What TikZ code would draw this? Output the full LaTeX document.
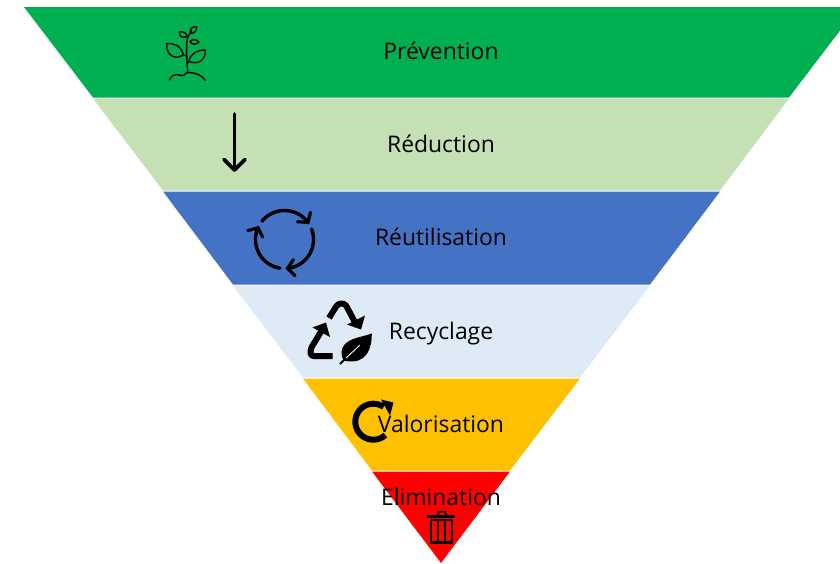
\documentclass[tikz,border=0pt]{standalone}
\usepackage{fontspec}
\setmainfont{Open Sans}
\usetikzlibrary{arrows.meta}
\definecolor{cPrev}{HTML}{00B050}
\definecolor{cRedu}{HTML}{C5E0B4}
\definecolor{cReut}{HTML}{4472C4}
\definecolor{cRecy}{HTML}{DEEAF6}
\definecolor{cValo}{HTML}{FFC000}
\definecolor{cElim}{HTML}{FF0000}
\tikzset{
  label text/.style={text=black,font=\fontsize{22.9}{26}\selectfont,inner sep=0pt,anchor=base},
  band/.style={draw=none},
  thin icon/.style={draw=black,line width=1.4pt,line join=round,line cap=round},
  bold icon/.style={draw=black,line width=3.6pt,line join=round,line cap=round},
  ring line/.style={draw=black,line width=3.4pt,line cap=round},
  ring head/.style={draw=black,line width=3.2pt,line cap=round,line join=miter},
  heavy icon/.style={draw=black,line width=6pt,line join=round,rounded corners=3pt},
  solid icon/.style={fill=black,draw=none},
  trash line/.style={draw=black,line width=2.8pt}
}
\begin{document}
\begin{tikzpicture}[x=1pt,y=-1pt]
\useasboundingbox (0,0) rectangle (840,563);
\fill[white] (0,0) rectangle (840,563);
\clip (0,0) rectangle (840,563);
% bands
\fill[band,cPrev] (24,7) -- (858,7) -- (789,97.5) -- (93,97.5) -- cycle;
\fill[band,cRedu] (93,98.5) -- (789,98.5) -- (720,190.5) -- (163,190.5) -- cycle;
\fill[band,cReut] (163,191.5) -- (720,191.5) -- (650,284.5) -- (233,284.5) -- cycle;
\fill[band,cRecy] (233,285.5) -- (650,285.5) -- (580,377.5) -- (303,377.5) -- cycle;
\fill[band,cValo] (303,378.5) -- (580,378.5) -- (510,470.5) -- (372,470.5) -- cycle;
\fill[band,cElim] (372,471.5) -- (510,471.5) -- (441,563) -- cycle;
% plant
\draw[thin icon] (187.7,72) .. controls (187,60) and (186,48) .. (187,40) .. controls (188,36) and (190,33) .. (191.5,31);
\draw[thin icon] (166.7,43.5) .. controls (173,43) and (181,45) .. (183.5,55) .. controls (175,60) and (166,56) .. (166.7,43.5);
\draw[thin icon] (183.5,55) -- (187,56);
\draw[thin icon] (205.3,50) .. controls (198,50) and (190,53) .. (189,61.5) .. controls (198,65) and (206,60) .. (205.3,50);
\draw[thin icon] (189,61.5) -- (187.5,63);
\draw[thin icon] (179.3,32) .. controls (183,31) and (187,33) .. (187,36.5) .. controls (183,38.5) and (179,37) .. (179.3,32);
\draw[thin icon] (196.7,26.5) .. controls (197,30) and (195,33.5) .. (190.5,33.5) .. controls (189.5,29) and (192,26.5) .. (196.7,26.5);
\draw[thin icon] (199,42) .. controls (196,38.5) and (192,39) .. (190,41.5) .. controls (192,45) and (196,45) .. (199,42);
\draw[thin icon] (169.3,80) .. controls (171,76) and (174,74.5) .. (176.7,74.5) .. controls (180,74.5) and (182,76.5) .. (183.5,75.5) .. controls (185,74) and (186,72.5) .. (188.5,72.5) .. controls (192,72.5) and (195,73) .. (198.3,74.5) .. controls (201,76) and (204,78) .. (205.3,80.3);
% down arrow
\coordinate (arrA) at (234.5,114);
\coordinate (arrB) at (234.5,170);
\draw[bold icon] (arrA) -- (arrB);
\draw[bold icon] (224,159.5) -- (arrB) -- (245,159.5);
% circular arrows
\foreach \s/\e in {141/36,21/-84,-99/-204}{
  \draw[ring line] plot[domain=\s:\e,samples=24,smooth] ({284.5+29*cos(\x)},{239.5-29*sin(\x)});
  \pgfmathsetmacro{\tipx}{284.5+29*cos(\e)}
  \pgfmathsetmacro{\tipy}{239.5-29*sin(\e)}
  \pgfmathsetmacro{\ax}{\tipx+10.5*cos(\e+90-50)}
  \pgfmathsetmacro{\ay}{\tipy-10.5*sin(\e+90-50)}
  \pgfmathsetmacro{\bx}{\tipx+10.5*cos(\e+90+50)}
  \pgfmathsetmacro{\by}{\tipy-10.5*sin(\e+90+50)}
  \draw[ring head] (\ax,\ay) -- (\tipx,\tipy) -- (\bx,\by);
}
% recycling symbol
\draw[heavy icon] (329,318) -- (338,303.5) -- (345,303.5) -- (357,326);
\fill[solid icon] (365,315.5) -- (361,329.5) -- (347,324.5) -- cycle;
\draw[heavy icon] (332.5,356) -- (310.5,356) -- (310.5,349) -- (322,330);
\fill[solid icon] (312.5,327.5) -- (326,322.5) -- (330,337) -- cycle;
\fill[solid icon] (371.8,333.5) .. controls (360,338) and (342,338) .. (341.5,353) .. controls (341.5,356) and (342.5,359) .. (344,360.5) .. controls (356,364) and (372,360) .. (371.8,333.5) -- cycle;
\draw[draw=cRecy,line width=1pt] (345,359) -- (360,345);
\draw[draw=black,line width=2pt] (340,364) -- (346,358);
% valorisation ring
\draw[draw=black,line width=6pt] plot[domain=312:55,samples=30,smooth] ({373.3+18*cos(\x)},{421.7-18*sin(\x)});
\fill[solid icon] (381,399.5) -- (393.5,402.5) -- (390,415.5) -- cycle;
% trash can
\draw[trash line] (427.3,516.7) -- (455.3,516.7);
\draw[draw=black,line width=1.8pt] (437.3,516.7) -- (438.3,511.7) -- (445.3,511.7) -- (446.7,516.7);
\draw[trash line] (431,520) -- (431,542.5) -- (452,542.5) -- (452,520);
\draw[trash line] (431,520) -- (452,520);
\draw[trash line] (438,520) -- (438,542) (445,520) -- (445,542);
% labels
\node[label text] (prevention) at (441,59.5) {Prévention};
\node[label text] (reduction) at (441,152.5) {Réduction};
\node[label text] (reutilisation) at (441,245.5) {Réutilisation};
\node[label text] (recyclage) at (441,339) {Recyclage};
\node[label text] (valorisation) at (441,432) {Valorisation};
\node[label text] (elimination) at (441,505.5) {Elimination};
\end{tikzpicture}
\end{document}
